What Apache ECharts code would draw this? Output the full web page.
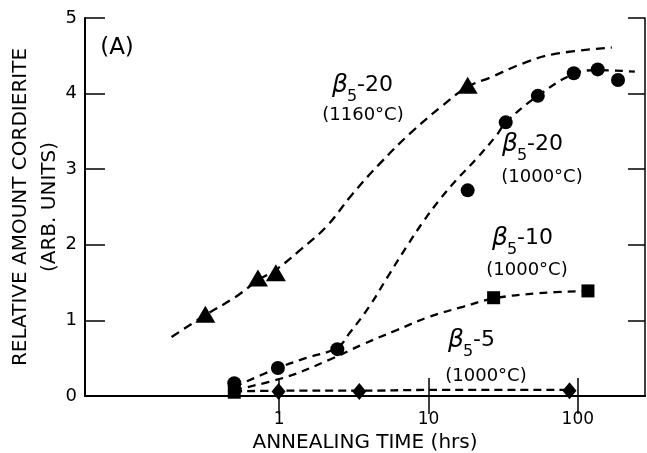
<!DOCTYPE html>
<html>
<head>
<meta charset="utf-8">
<script src="https://cdn.jsdelivr.net/npm/echarts@6/dist/echarts.min.js"></script>
<style>
	html, body { margin: 0; padding: 0; background: #fff; }
	#container { width: 647px; height: 453px; }
</style>
</head>
<body>
<div id="container"></div>
<script>
// beta5-20 at 1160 C (triangles)
var timeTri = [0.32, 0.72, 0.95, 18.3];
var ampTri = [1.08, 1.56, 1.63, 4.11];
var fitTriTime = [0.19, 0.32, 0.51, 0.72, 0.95, 1.36, 2.07, 3.09, 4.7, 7.5, 12.4, 18.3, 25.7, 43, 68, 169];
var fitTriAmp = [0.78, 1.07, 1.31, 1.53, 1.67, 1.92, 2.24, 2.67, 3.07, 3.47, 3.84, 4.09, 4.21, 4.40, 4.52, 4.61];

// beta5-20 at 1000 C (circles)
var timeCir = [0.5, 0.98, 2.45, 18.3, 32.9, 54, 94, 136, 186];
var ampCir = [0.17, 0.37, 0.62, 2.72, 3.62, 3.97, 4.27, 4.32, 4.18];
var fitCirTime = [0.5, 0.98, 1.5, 2.45, 2.95, 4.0, 5.3, 7.1, 9.1, 11.8, 15.4, 21, 28.6, 33, 54, 94, 136, 241];
var fitCirAmp = [0.12, 0.37, 0.50, 0.64, 0.83, 1.18, 1.57, 1.97, 2.29, 2.59, 2.86, 3.14, 3.45, 3.62, 3.97, 4.26, 4.31, 4.29];

// beta5-10 at 1000 C (squares)
var timeSq = [0.5, 27.3, 117];
var ampSq = [0.05, 1.30, 1.39];
var fitSqTime = [0.5, 1.11, 2.17, 3.6, 6.1, 10.2, 17, 27.3, 55, 117];
var fitSqAmp = [0.08, 0.25, 0.48, 0.68, 0.87, 1.05, 1.18, 1.29, 1.36, 1.39];

// beta5-5 at 1000 C (diamonds)
var timeDia = [0.99, 3.44, 88];
var ampDia = [0.06, 0.06, 0.07];
var fitDiaTime = [0.5, 1, 3.44, 10, 88];
var fitDiaAmp = [0.06, 0.07, 0.07, 0.08, 0.08];

var xTicks = [1, 10, 100];

var fuente = 'DejaVu Sans';

function pares(xs, ys) {
	return xs.map(function (x, i) { return [x, ys[i]]; });
}

function curva(xs, ys, dash) {
	return {
		type: 'line',
		data: pares(xs, ys),
		smooth: 0.4,
		symbol: 'none',
		silent: true,
		lineStyle: { color: '#000', width: 2.3, type: dash },
		z: 2
	};
}

function puntos(xs, ys, symbol, size) {
	return {
		type: 'scatter',
		data: pares(xs, ys),
		symbol: symbol,
		symbolSize: size,
		itemStyle: { color: '#000', opacity: 1 },
		z: 5
	};
}

// etiqueta tipo "beta_5-20" con temperatura debajo
function etiqueta(x, y, resto, temp, tx, ty) {
	return {
		type: 'group',
		children: [
			{ type: 'text', x: x, y: y, style: { text: 'β', font: 'italic 25px ' + fuente, fill: '#000', verticalAlign: 'middle' } },
			{ type: 'text', x: x + 15, y: y + 12, style: { text: '5', font: '16px ' + fuente, fill: '#000', verticalAlign: 'middle' } },
			{ type: 'text', x: x + 25, y: y, style: { text: resto, font: '22px ' + fuente, fill: '#000', verticalAlign: 'middle' } },
			{ type: 'text', x: tx, y: ty, style: { text: temp, font: '18px ' + fuente, fill: '#000', align: 'center', verticalAlign: 'middle' } }
		]
	};
}

var dom = document.getElementById('container');
var myChart = echarts.init(dom);

var option = {
	animation: false,
	backgroundColor: '#fff',
	grid: { left: 85, right: 2, top: 18, bottom: 57, outerBoundsMode: 'none', containLabel: false },
	xAxis: [
		{
			type: 'log',
			min: 0.05,
			max: 282,
			position: 'bottom',
			name: 'ANNEALING TIME (hrs)',
			nameLocation: 'middle',
			nameGap: 37,
			nameTextStyle: { color: '#000', fontSize: 20, fontFamily: fuente },
			axisLine: { lineStyle: { color: '#000', width: 2 } },
			axisTick: { inside: true, length: 18, customValues: xTicks, lineStyle: { color: '#000', width: 1.5 } },
			axisLabel: {
				customValues: xTicks, margin: 15, color: '#000', fontSize: 17, fontFamily: fuente,
				formatter: function (v) { return String(Math.round(v)); }
			},
			splitLine: { show: false },
			minorTick: { show: false }
		},
		{
			type: 'log',
			min: 0.05,
			max: 282,
			position: 'top',
			axisLine: { lineStyle: { color: '#000', width: 1.5 } },
			axisTick: { inside: true, length: 18, customValues: xTicks, lineStyle: { color: '#000', width: 1.5 } },
			axisLabel: { show: false },
			splitLine: { show: false }
		}
	],
	yAxis: [
		{
			type: 'value',
			min: 0,
			max: 5,
			interval: 1,
			position: 'left',
			name: 'RELATIVE AMOUNT CORDIERITE\n(ARB. UNITS)',
			nameLocation: 'middle',
			nameGap: 21,
			nameMoveOverlap: false,
			nameTextStyle: { color: '#000', fontSize: 20, fontFamily: fuente, lineHeight: 29 },
			axisLine: { show: true, lineStyle: { color: '#000', width: 2 } },
			axisTick: { show: true, inside: true, length: 20, lineStyle: { color: '#000', width: 1.5 } },
			axisLabel: { margin: 8, color: '#000', fontSize: 18, fontFamily: fuente },
			splitLine: { show: false }
		},
		{
			type: 'value',
			min: 0,
			max: 5,
			interval: 1,
			position: 'right',
			axisLine: { show: true, lineStyle: { color: '#000', width: 1.5 } },
			axisTick: { show: true, inside: true, length: 17, lineStyle: { color: '#000', width: 1.5 } },
			axisLabel: { show: false },
			splitLine: { show: false }
		}
	],
	series: [
		curva(fitTriTime, fitTriAmp, [9, 6]),
		curva(fitCirTime, fitCirAmp, [8, 6]),
		curva(fitSqTime, fitSqAmp, [8, 6]),
		curva(fitDiaTime, fitDiaAmp, [8, 5]),
		puntos(timeTri, ampTri, 'triangle', [20, 17]),
		puntos(timeCir, ampCir, 'circle', 14),
		puntos(timeSq, ampSq, 'rect', 13),
		puntos(timeDia, ampDia, 'diamond', [14, 17])
	],
	graphic: [
		{ type: 'text', x: 117, y: 48, style: { text: '(A)', font: '23px ' + fuente, fill: '#000', align: 'center', verticalAlign: 'middle' } },
		etiqueta(332, 85, '-20', '(1160°C)', 363, 115),
		etiqueta(502, 144, '-20', '(1000°C)', 542, 177),
		etiqueta(492, 238, '-10', '(1000°C)', 527, 270),
		etiqueta(448, 340, '-5', '(1000°C)', 486, 376)
	]
};

if (option && typeof option === 'object') {
	myChart.setOption(option, true);
}
</script>
</body>
</html>
